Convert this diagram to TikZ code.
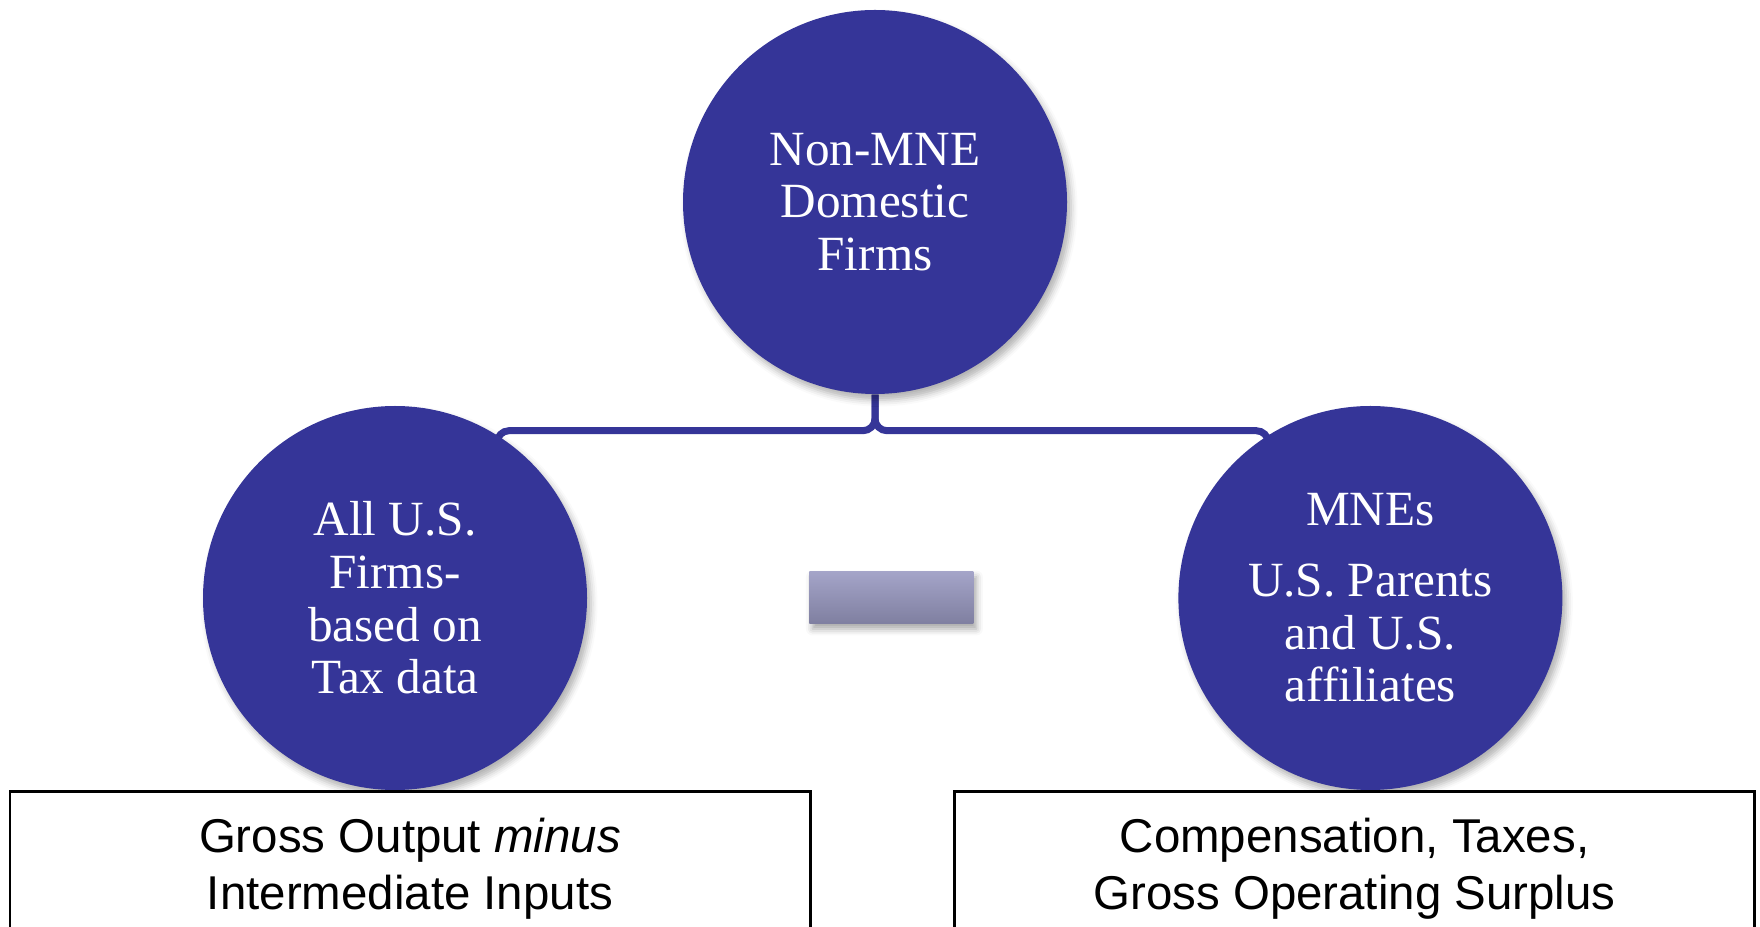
\documentclass[tikz,border=0pt]{standalone}
\usepackage{fontspec}
\setmainfont{Liberation Serif}
\setsansfont{Liberation Sans}
\usetikzlibrary{positioning,backgrounds,shadows.blur}
\definecolor{blu1}{RGB}{53,53,152}
\definecolor{gry1}{RGB}{164,164,200}
\definecolor{gry2}{RGB}{127,127,160}
\tikzstyle{firm} = [circle, fill=blu1, minimum size=38.4mm, inner sep=0pt,
    text=white, align=center, font=\fontsize{14}{15}\selectfont,
    blur shadow={shadow xshift=0.4mm, shadow yshift=-0.6mm, shadow opacity=30}]
\tikzstyle{measure} = [rectangle, draw=black, line width=0.85pt, fill=white,
    minimum width=80mm, minimum height=15.5mm, align=center,
    font=\sffamily\fontsize{13.5}{16.2}\selectfont]
\tikzstyle{minusbar} = [rectangle, top color=gry1, bottom color=gry2,
    minimum width=16.4mm, minimum height=5.2mm, inner sep=0pt,
    blur shadow={shadow xshift=0.3mm, shadow yshift=-0.5mm, shadow opacity=35}]
\tikzstyle{bracket} = [draw=blu1, line width=0.7mm, rounded corners=1.2mm]

\begin{document}
\begin{tikzpicture}[x=0.1mm, y=0.1mm, node distance=5mm]
    \useasboundingbox (0,0) rectangle (1760,926);
    \clip (0,0) rectangle (1760,926);
    % Circles
    \node (nonmne) [firm] at (875,724) {Non-MNE\\Domestic\\Firms};
    \node (allus) [firm] at (395,328) {All U.S.\\Firms-\\based on\\Tax data};
    \node (mnes) [firm, right=59mm of allus] {MNEs\\[1.8mm]U.S. Parents\\and U.S.\\affiliates};
    \node (minus) [minusbar, right=22.1mm of allus] {};

    % Boxes
    \node (gross) [measure] at (410,57) {Gross Output \emph{minus}\\Intermediate Inputs};
    \node (comp) [measure] at (1354.5,57) {Compensation, Taxes,\\Gross Operating Surplus};

    % Lines
    \begin{scope}[on background layer]
        \coordinate (fork) at ([yshift=-3.6mm]nonmne.south);
        \draw [bracket] (nonmne.south) -- (fork) -| (allus.58);
        \draw [bracket] (nonmne.south) -- (fork) -| (mnes.122);
    \end{scope}
\end{tikzpicture}
\end{document}
